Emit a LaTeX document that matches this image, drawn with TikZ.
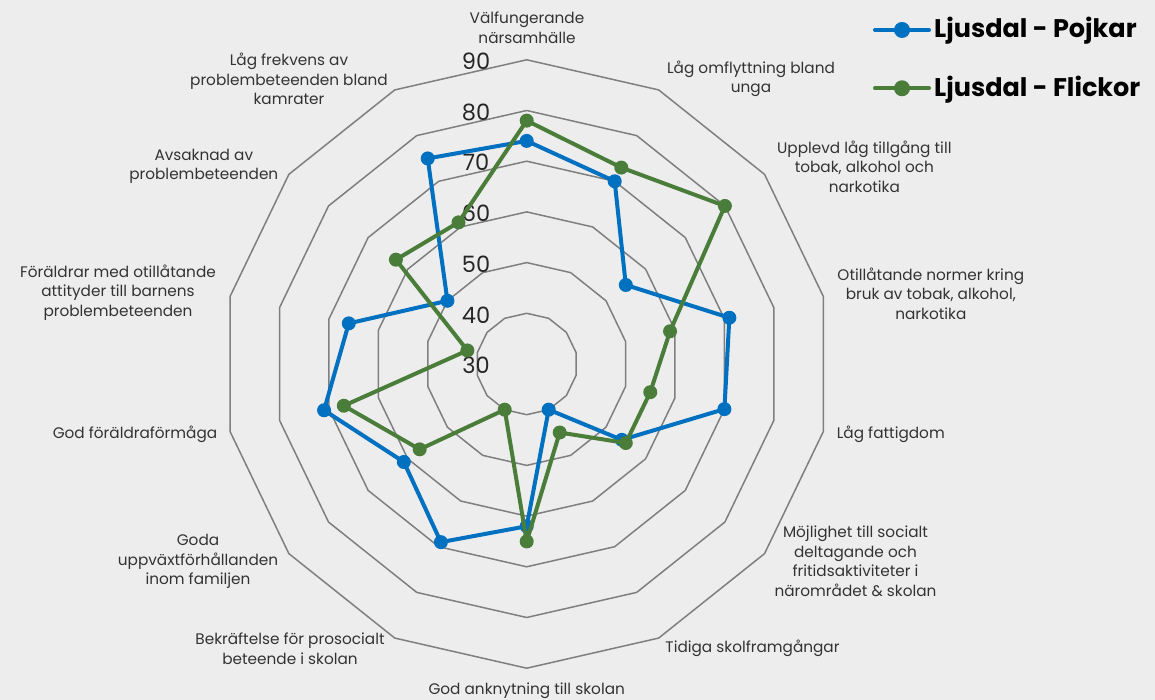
\documentclass[tikz,border=0pt]{standalone}
\usepackage{fontspec}
\setmainfont{Poppins}
\usetikzlibrary{calc}
\definecolor{bgc}{HTML}{EDEDED}
\definecolor{ringc}{HTML}{7F7F7F}
\definecolor{bluec}{HTML}{0070C0}
\definecolor{greenc}{HTML}{4A7C3A}
\definecolor{txtc}{HTML}{333333}
\begin{document}
\begin{tikzpicture}[x=1pt,y=1pt,
  ring/.style={draw=ringc, line width=1.5pt, line join=round},
  bline/.style={draw=bluec, line width=4pt, line join=round},
  gline/.style={draw=greenc, line width=4pt, line join=round},
  bdot/.style={circle, fill=bluec, inner sep=0pt, minimum size=14pt},
  gdot/.style={circle, fill=greenc, inner sep=0pt, minimum size=14pt},
  lab/.style={text=txtc, font=\fontsize{15.3}{19.5}\selectfont, align=center, inner sep=0pt},
  scl/.style={text=black!85, font=\fontsize{22.5}{22.5}\selectfont, inner sep=0pt},
  leg/.style={font=\fontsize{25.5}{25.5}\selectfont\bfseries, anchor=base west, inner sep=0pt}]
\fill[bgc] (0,0) rectangle (1155,700);
\useasboundingbox (0,0) rectangle (1155,700);
\coordinate (C) at (526.7,336);
\begin{scope}[shift={(C)}]
  \foreach \v in {1,...,6} {
    \pgfmathsetmacro{\rr}{\v*50.7}
    \draw[ring] (90:\rr) \foreach \i in {1,...,13} { -- ({90-\i*360/14}:\rr) } -- cycle;
  }
  \foreach \a [count=\i from 0] in {74,70,55,71,70,54,40,62,69,61,71,66,50,75}
    \coordinate (b\i) at ({90-\i*360/14}:{(\a-30)*5.07});
  \foreach \a [count=\i from 0] in {78,73,80,59,55,55,45,65,40,57,67,42,63,61}
    \coordinate (g\i) at ({90-\i*360/14}:{(\a-30)*5.07});
\end{scope}
% scale labels
\foreach \v in {30,40,...,90}
  \node[scl] (s\v) at (476,{334.5+(\v-30)*5.07}) {\v};
% blue series
\draw[bline] (b0) -- (b1) -- (b2) -- (b3) -- (b4) -- (b5) -- (b6) -- (b7) -- (b8) -- (b9) -- (b10) -- (b11) -- (b12) -- (b13) -- cycle;
\foreach \i in {0,...,13} \node[bdot] (bd\i) at (b\i) {};
% green series
\draw[gline] (g0) -- (g1) -- (g2) -- (g3) -- (g4) -- (g5) -- (g6) -- (g7) -- (g8) -- (g9) -- (g10) -- (g11) -- (g12) -- (g13) -- cycle;
\foreach \i in {0,...,13} \node[gdot] (gd\i) at (g\i) {};
% axis labels
\node[lab] (l0) at (527,672.2) {Välfungerande\\närsamhälle};
\node[lab] (l1) at (751,621) {Låg omflyttning bland\\unga};
\node[lab] (l2) at (864.3,533.3) {Upplevd låg tillgång till\\tobak, alkohol och\\narkotika};
\node[lab] (l3) at (930.8,406.5) {Otillåtande normer kring\\bruk av tobak, alkohol,\\narkotika};
\node[lab] (l4) at (890.8,266) {Låg fattigdom};
\node[lab] (l5) at (855.5,138.7) {Möjlighet till socialt\\deltagande och\\fritidsaktiviteter i\\närområdet \& skolan};
\node[lab] (l6) at (752.5,51.7) {Tidiga skolframgångar};
\node[lab] (l7) at (526.7,9.3) {God anknytning till skolan};
\node[lab] (l8) at (290,51.2) {Bekräftelse för prosocialt\\beteende i skolan};
\node[lab] (l9) at (198,138.3) {Goda\\uppväxtförhållanden\\inom familjen};
\node[lab] (l10) at (135,266) {God föräldraförmåga};
\node[lab] (l11) at (118,407.3) {Föräldrar med otillåtande\\attityder till barnens\\problembeteenden};
\node[lab] (l12) at (203.8,533.7) {Avsaknad av\\problembeteenden};
\node[lab] (l13) at (289,621) {Låg frekvens av\\problembeteenden bland\\kamrater};
% legend
\coordinate (lbA) at (875,670);
\coordinate (lbB) at (929,670);
\draw[bluec, line width=4pt, line cap=round] (lbA) -- (lbB);
\node[bdot, minimum size=16pt] (lbd) at (902,670) {};
\node[leg] (lbt) at (934,662.3) {Ljusdal - Pojkar};
\coordinate (lgA) at (875,611.7);
\coordinate (lgB) at (929,611.7);
\draw[greenc, line width=4pt, line cap=round] (lgA) -- (lgB);
\node[gdot, minimum size=16pt] (lgd) at (902,611.7) {};
\node[leg] (lgt) at (934,603.3) {Ljusdal - Flickor};
\end{tikzpicture}
\end{document}
